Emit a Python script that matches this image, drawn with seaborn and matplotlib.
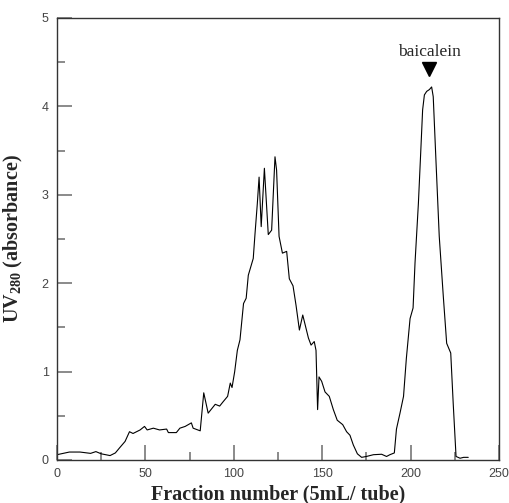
import numpy as np
import pandas as pd
import matplotlib
matplotlib.use("Agg")
import matplotlib.pyplot as plt
import seaborn as sns
from matplotlib.ticker import MultipleLocator

# chromatogram trace
fraction = [0, 7, 13, 19, 22, 25, 30, 33, 35.5, 38.5, 41, 43, 47, 49.5, 51, 54.5,
            58, 62, 63, 67.5, 69.5, 72.5, 76, 77, 81, 83, 85.5, 87.5, 89.5, 92,
            94, 96.5, 98, 99, 100.5, 102, 103.5, 105.5, 107, 108.2, 111, 112,
            113.3, 114.3, 115.5, 117.3, 119.5, 121.4, 123.3, 124.2, 125.6, 127.5,
            129.9, 131.4, 133.5, 135.2, 137.1, 139, 142.2, 143.7, 145.5, 146.5,
            147.4, 148.2, 149.7, 151.6, 154, 156.3, 158.5, 161.6, 163.8, 165.7,
            167.6, 169.9, 172.3, 175, 179, 183.6, 186.4, 188.3, 190.8, 192, 194,
            196, 197.6, 199.7, 201.4, 202.5, 204.4, 205.7, 206.8, 207.8, 209.1,
            210.6, 211.9, 212.8, 214.4, 216.2, 218.5, 220.4, 222.7, 224.1, 225.7,
            228, 230, 232.6]
absorbance = [0.06, 0.09, 0.09, 0.075, 0.095, 0.07, 0.05, 0.08, 0.14, 0.21, 0.32,
              0.30, 0.34, 0.38, 0.34, 0.36, 0.34, 0.35, 0.31, 0.31, 0.36, 0.38,
              0.42, 0.36, 0.33, 0.76, 0.53, 0.58, 0.63, 0.61, 0.66, 0.72, 0.87,
              0.82, 1.0, 1.24, 1.36, 1.77, 1.83, 2.09, 2.28, 2.56, 2.90, 3.20,
              2.64, 3.30, 2.55, 2.60, 3.43, 3.28, 2.53, 2.34, 2.36, 2.05, 1.97,
              1.75, 1.47, 1.64, 1.38, 1.30, 1.34, 1.24, 0.57, 0.94, 0.89, 0.77,
              0.72, 0.57, 0.45, 0.40, 0.32, 0.28, 0.17, 0.07, 0.03, 0.04, 0.06,
              0.065, 0.04, 0.06, 0.08, 0.35, 0.53, 0.72, 1.15, 1.6, 1.72, 2.23,
              2.90, 3.47, 3.96, 4.13, 4.17, 4.19, 4.22, 4.11, 3.36, 2.53, 1.85,
              1.32, 1.21, 0.64, 0.04, 0.02, 0.03, 0.03]
peak_name = "baicalein"

df = pd.DataFrame({"fraction": fraction, "absorbance": absorbance})

sns.set_style("white")
plt.rcParams["mathtext.fontset"] = "custom"
plt.rcParams["mathtext.rm"] = "Liberation Serif:bold"
plt.rcParams["mathtext.bf"] = "Liberation Serif:bold"
plt.rcParams["mathtext.default"] = "rm"

fig = plt.figure(figsize=(5.1, 5.03), dpi=100)
ax = fig.add_axes([57 / 510, 43 / 503, 442 / 510, 442 / 503])

sns.lineplot(data=df, x="fraction", y="absorbance", color="black", lw=0.8,
             ax=ax, sort=False, estimator=None)

# marker + label over the baicalein peak
i_peak = int(np.argmax(absorbance))
px, py = fraction[i_peak] - 1.5, absorbance[i_peak] + 0.2
ax.plot(px, py, marker="v", color="black", markersize=10, ls="none")
ax.text(px, py + 0.2, peak_name, ha="center", va="center",
        fontsize=12.5, family="Liberation Serif")

ax.set_xlim(0, 250)
ax.set_ylim(0, 5)
ax.xaxis.set_major_locator(MultipleLocator(50))
ax.xaxis.set_minor_locator(MultipleLocator(25))
ax.yaxis.set_major_locator(MultipleLocator(1))
ax.yaxis.set_minor_locator(MultipleLocator(0.5))
ax.tick_params(which="both", direction="in", color="#777777", width=1.2,
               labelcolor="#444444", labelsize=9, top=False, right=False,
               bottom=True, left=True)
ax.tick_params(which="major", length=11, pad=6)
ax.tick_params(which="minor", length=6)
for lab in ax.get_xticklabels() + ax.get_yticklabels():
    lab.set_family("Liberation Sans")

for s in ax.spines.values():
    s.set_color("#333333")
    s.set_linewidth(1)

ax.set_xlabel("Fraction number (5mL/ tube)", fontsize=14.5, fontweight="bold",
              family="Liberation Serif", labelpad=3)
ax.set_ylabel("UV$_{280}$ (absorbance)", fontsize=14.5, fontweight="bold",
              family="Liberation Serif", labelpad=12)

fig.savefig("out.png", dpi=100, facecolor="white")
